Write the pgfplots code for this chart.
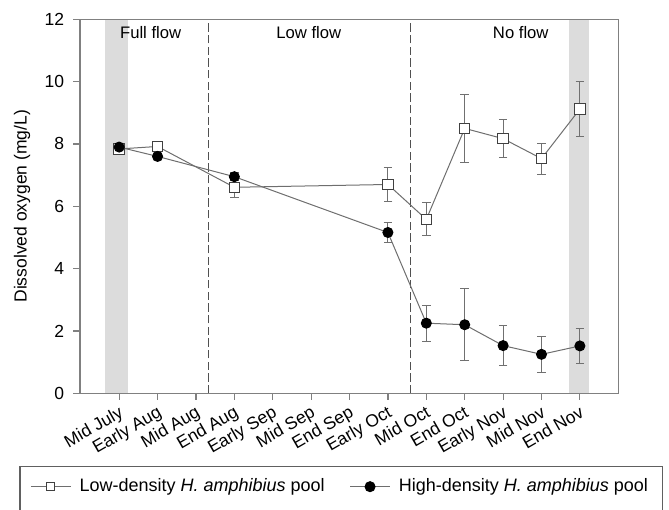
\documentclass[border=0pt]{standalone}
\usepackage{fontspec}
\setmainfont{Liberation Sans}
\usepackage{pgfplots}
\pgfplotsset{compat=1.18}
\usetikzlibrary{calc}
\definecolor{axisgray}{HTML}{808080}
\definecolor{linegray}{HTML}{6E6E6E}
\definecolor{errgray}{HTML}{707070}
\definecolor{bandgray}{HTML}{DCDCDC}
\definecolor{markgray}{HTML}{404040}
\definecolor{dashgray}{HTML}{505050}
\definecolor{legendgray}{HTML}{606060}

\begin{document}
\begin{tikzpicture}
\begin{axis}[
  width=323.2pt, height=224.4pt, scale only axis,
  xmin=-1.02, xmax=13.01, ymin=0, ymax=12,
  xtick={0,...,12},
  xticklabels={Mid July,Early Aug,Mid Aug,End Aug,Early Sep,Mid Sep,End Sep,Early Oct,Mid Oct,End Oct,Early Nov,Mid Nov,End Nov},
  ytick={0,2,...,12},
  xtick pos=bottom, ytick pos=left,
  tick align=outside, major tick length=4pt,
  axis on top,
  axis line style={draw=axisgray, line width=0.8pt},
  tick style={draw=axisgray, line width=0.7pt},
  /pgf/number format/assume math mode=true,
  ticklabel style={font=\fontsize{10.5}{12}\selectfont},
  xticklabel style={rotate=30, anchor=north east, inner sep=2pt},
  yticklabel style={xshift=-2pt},
  ylabel={Dissolved oxygen (mg/L)},
  ylabel style={at={(axis description cs:-0.1077,0.5)}, anchor=center, font=\fontsize{10.5}{12}\selectfont},
  legend columns=2,
  legend style={at={(axis description cs:-0.0928,-0.2497)}, anchor=west, draw=none, fill=none,
    inner sep=0pt, font=\fontsize{10.8}{13}\selectfont,
    /tikz/every odd column/.append style={column sep=3pt},
    /tikz/every even column/.append style={column sep=13pt}},
  legend image code/.code={\draw[mark repeat=2,mark phase=2,#1] plot coordinates {(0cm,0cm)(0.42cm,0cm)(0.84cm,0cm)};},
]
% shaded sampling dates and flow periods
\fill[bandgray] (axis cs:-0.38,0) rectangle (axis cs:0.23,12);
\fill[bandgray] (axis cs:11.72,0) rectangle (axis cs:12.24,12);
\draw[dashgray, line width=0.6pt, dash pattern=on 5pt off 2pt] (axis cs:2.32,0) -- (axis cs:2.32,12);
\draw[dashgray, line width=0.6pt, dash pattern=on 5pt off 2pt] (axis cs:7.6,0) -- (axis cs:7.6,12);
\node[anchor=base, font=\fontsize{10}{12}\selectfont] at (axis cs:0.82,11.39) {Full flow};
\node[anchor=base, font=\fontsize{10}{12}\selectfont] at (axis cs:4.94,11.39) {Low flow};
\node[anchor=base, font=\fontsize{10}{12}\selectfont] at (axis cs:10.46,11.39) {No flow};

\addplot[linegray, line width=0.6pt, mark=square*, mark size=3.1pt,
  mark options={fill=white, draw=markgray, line width=0.6pt},
  legend image post style={mark size=2.4pt},
  error bars/.cd, y dir=both, y explicit,
  error bar style={errgray, line width=0.6pt},
  error mark options={rotate=90, mark size=2.6pt, errgray, line width=0.6pt}]
  table[x=x, y=y, y error=e] {
x y e
0 7.84 0.10
1 7.92 0.06
3 6.61 0.32
7 6.70 0.54
8 5.58 0.53
9 8.50 1.09
10 8.17 0.60
11 7.53 0.50
12 9.12 0.87
};
\addlegendentry{Low-density \textit{H. amphibius} pool}

\addplot[linegray, line width=0.6pt, mark=*, mark size=3pt,
  mark options={fill=black, draw=black},
  error bars/.cd, y dir=both, y explicit,
  error bar style={errgray, line width=0.6pt},
  error mark options={rotate=90, mark size=2.6pt, errgray, line width=0.6pt}]
  table[x=x, y=y, y error=e] {
x y e
0 7.90 0.08
1 7.60 0.00
3 6.95 0.12
7 5.16 0.31
8 2.25 0.58
9 2.20 1.16
10 1.53 0.63
11 1.25 0.57
12 1.52 0.57
};
\addlegendentry{High-density \textit{H. amphibius} pool}
\end{axis}
\coordinate (sw) at (current axis.south west);
\draw[legendgray, line width=0.7pt] ($(sw)+(-36pt,-44.04pt)$) rectangle ($(sw)+(349.4pt,-90pt)$);
\pgfresetboundingbox
\path[use as bounding box] ($(sw)+(-48pt,-69.42pt)$) rectangle ($(sw)+(353.4pt,235.98pt)$);
\end{tikzpicture}
\end{document}
